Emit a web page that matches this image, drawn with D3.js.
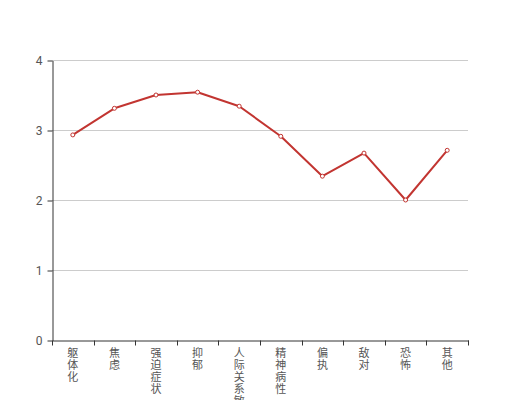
<!DOCTYPE html>
<html>
<head>
<meta charset="utf-8">
<script src="https://cdn.jsdelivr.net/npm/d3@7"></script>
<style>
  body { margin: 0; background: #fff; }
  svg { display: block; font-family: "Noto Sans CJK SC", "Noto Sans", sans-serif; }
</style>
</head>
<body>
<svg id="chart" width="520" height="400"></svg>
<script>
const categories = ['躯体化', '焦虑', '强迫症状', '抑郁', '人际关系敏感', '精神病性', '偏执', '敌对', '恐怖', '其他']
const scores = [2.93, 3.31, 3.5, 3.54, 3.34, 2.91, 2.34, 2.67, 2.0, 2.71]
const yTicks = [0, 1, 2, 3, 4]

const svg = d3.select('#chart')
const plotLeft = 52, plotRight = 468, plotTop = 60, plotBottom = 340

let x = d3.scaleBand()
  .domain(categories)
  .range([plotLeft, plotRight])

let y = d3.scaleLinear()
  .domain([0, 4])
  .range([plotBottom, plotTop])

// grid
svg.append('g')
  .selectAll('line')
  .data(yTicks.filter(d => d > 0))
  .enter()
  .append('line')
  .attr('x1', plotLeft)
  .attr('x2', plotRight)
  .attr('y1', d => y(d) + 0.5)
  .attr('y2', d => y(d) + 0.5)
  .attr('stroke', '#ccc')

// y axis
let yAxis = d3.axisLeft(y)
  .tickValues(yTicks)
  .tickFormat(d3.format('d'))
  .tickSize(5)
  .tickSizeOuter(0)
  .tickPadding(5)
let gy = svg.append('g')
  .attr('transform', `translate(${plotLeft + 0.5}, 0.5)`)
  .call(yAxis)
gy.selectAll('path, line').attr('stroke', '#333')
gy.selectAll('text').attr('fill', '#555').style('font-size', '12px').style('font-family', 'Roboto, sans-serif')

// x axis
let xAxis = d3.axisBottom(x).tickSize(0).tickSizeOuter(0).tickFormat('')
let gx = svg.append('g')
  .attr('transform', `translate(0.5, ${plotBottom + 0.5})`)
  .call(xAxis)
gx.select('path').attr('stroke', '#333')
gx.selectAll('.tick').remove()

// boundary ticks
let bounds = categories.map(d => x(d)).concat([plotRight])
gx.selectAll('line.b')
  .data(bounds)
  .enter()
  .append('line')
  .attr('class', 'b')
  .attr('x1', d => Math.round(d))
  .attr('x2', d => Math.round(d))
  .attr('y1', 0)
  .attr('y2', 5)
  .attr('stroke', '#333')

// vertical labels
let labels = svg.append('g')
  .selectAll('text')
  .data(categories)
  .enter()
  .append('text')
  .attr('text-anchor', 'middle')
  .attr('fill', '#555')
  .style('font-size', '11px')
labels.each(function(d) {
  let t = d3.select(this)
  d.split('').forEach((ch, i) => {
    t.append('tspan')
      .attr('x', x(d) + x.bandwidth() / 2)
      .attr('y', 357 + i * 12)
      .text(ch)
  })
})

// line
let cx = d => x(d) + x.bandwidth() / 2
let line = d3.line()
  .x((d, i) => cx(categories[i]))
  .y(d => y(d))

svg.append('path')
  .datum(scores)
  .attr('d', line)
  .attr('fill', 'none')
  .attr('stroke', '#c23531')
  .attr('stroke-width', 2)
  .attr('stroke-linejoin', 'round')

svg.append('g')
  .selectAll('circle')
  .data(scores)
  .enter()
  .append('circle')
  .attr('cx', (d, i) => cx(categories[i]))
  .attr('cy', d => y(d))
  .attr('r', 2)
  .attr('fill', '#fff')
  .attr('stroke', '#c23531')
  .attr('stroke-width', 1)
</script>
</body>
</html>
